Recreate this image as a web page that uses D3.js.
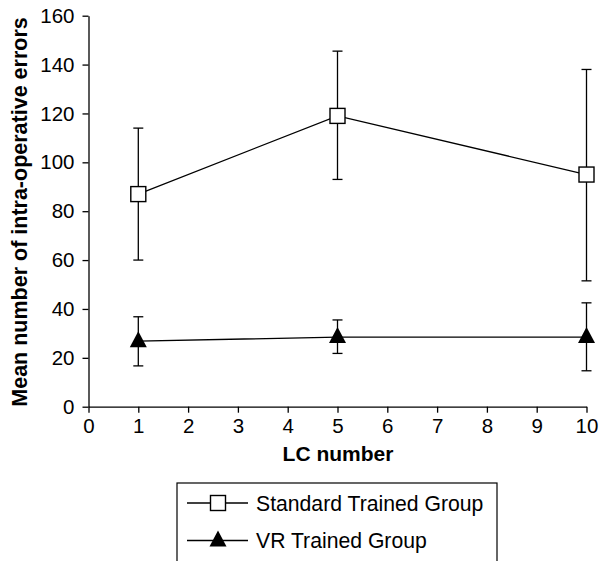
<!DOCTYPE html>
<html><head><meta charset="utf-8">
<script src="https://cdn.jsdelivr.net/npm/d3@7"></script>
<style>body{margin:0;background:#fff}svg{display:block}text{font-family:"Liberation Sans",Arial,sans-serif}</style>
</head><body><svg id="c" width="603" height="561"></svg>
<script>
const lcNumbers = [1, 5, 10];
const standardMean = [87, 119, 95];
const standardHigh = [114, 145.5, 138];
const standardLow = [60, 93, 51.5];
const vrMean = [26.8, 28.5, 28.5];
const vrHigh = [36.8, 35.5, 42.5];
const vrLow = [16.7, 21.8, 14.7];
const xTicks = [0,1,2,3,4,5,6,7,8,9,10];
const yTicks = [0,20,40,60,80,100,120,140,160];
const seriesNames = ["Standard Trained Group", "VR Trained Group"];

const svg = d3.select("#c");
const x = d3.scaleLinear().domain([0,10]).range([88.5, 586.5]);
const y = d3.scaleLinear().domain([0,160]).range([406.7, 15.7]);

const xAxis = svg.append("g").attr("transform","translate(0,406.7)")
  .call(d3.axisBottom(x).tickValues(xTicks).tickSize(6).tickPadding(6).tickSizeOuter(0));
const yAxis = svg.append("g").attr("transform","translate(88.5,0)")
  .call(d3.axisLeft(y).tickValues(yTicks).tickSize(6).tickPadding(8).tickSizeOuter(0));
[xAxis,yAxis].forEach(a=>{
  a.attr("font-size",20.5).attr("font-family","Liberation Sans, Arial, sans-serif");
  a.selectAll("path,line").attr("stroke","#000").attr("stroke-width",1.3);
  a.selectAll("text").attr("fill","#000");
});

svg.append("text").attr("x",338).attr("y",461).attr("text-anchor","middle")
  .attr("font-size",21).attr("font-weight","bold").text("LC number");
svg.append("text").attr("transform","translate(27,212) rotate(-90)").attr("text-anchor","middle")
  .attr("font-size",21.5).attr("font-weight","bold").text("Mean number of intra-operative errors");

function drawSeries(mean, hi, lo, marker){
  const g = svg.append("g");
  const pts = lcNumbers.map((d,i)=>({x:d,m:mean[i],h:hi[i],l:lo[i]}));
  g.append("path").datum(pts).attr("fill","none").attr("stroke","#000").attr("stroke-width",1.3)
    .attr("d", d3.line().x(d=>x(d.x)).y(d=>y(d.m)));
  pts.forEach(p=>{
    const cx = x(p.x);
    g.append("line").attr("x1",cx).attr("x2",cx).attr("y1",y(p.h)).attr("y2",y(p.l)).attr("stroke","#000").attr("stroke-width",1.3);
    [p.h,p.l].forEach(v=>g.append("line").attr("x1",cx-5).attr("x2",cx+5).attr("y1",y(v)).attr("y2",y(v)).attr("stroke","#000").attr("stroke-width",1.3));
  });
  pts.forEach(p=>marker(g, x(p.x), y(p.m)));
}
function square(g,cx,cy){
  g.append("rect").attr("x",cx-7.5).attr("y",cy-7.5).attr("width",15).attr("height",15)
   .attr("fill","#fff").attr("stroke","#000").attr("stroke-width",1.4);
}
function triangle(g,cx,cy){
  g.append("path").attr("d",`M${cx},${cy-10}L${cx+8.5},${cy+6}L${cx-8.5},${cy+6}Z`).attr("fill","#000");
}
drawSeries(standardMean, standardHigh, standardLow, square);
drawSeries(vrMean, vrHigh, vrLow, triangle);

// legend
const lg = svg.append("g");
lg.append("rect").attr("x",177).attr("y",483).attr("width",320).attr("height",100)
  .attr("fill","#fff").attr("stroke","#000").attr("stroke-width",1.2);
const markers = [square, triangle];
seriesNames.forEach((n,i)=>{
  const yy = 503 + i*37.5;
  lg.append("line").attr("x1",187).attr("x2",248).attr("y1",yy).attr("y2",yy).attr("stroke","#000").attr("stroke-width",1.3);
  markers[i](lg, 218, yy);
  lg.append("text").attr("x",256).attr("y",yy+7.5).attr("font-size",21.2).text(n);
});
</script></body></html>
